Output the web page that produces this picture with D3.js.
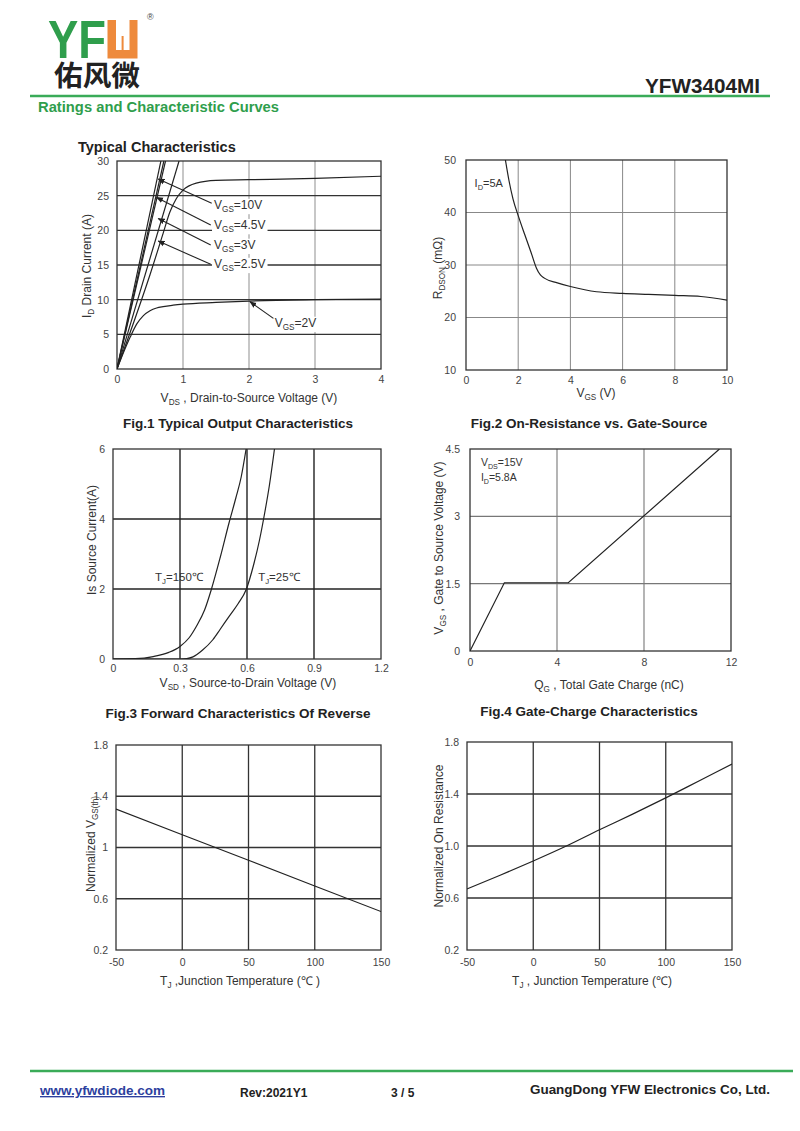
<!DOCTYPE html>
<html><head><meta charset="utf-8">
<script src="https://cdn.jsdelivr.net/npm/d3@7"></script>
<style>
html,body{margin:0;padding:0;background:#fff;}
svg{display:block;font-family:"Liberation Sans",Arial,sans-serif;}
</style></head>
<body>
<svg id="page" width="800" height="1131"></svg>
<script>
// ---------------- DATA ----------------
// Fig.1 Typical Output Characteristics  [VDS (V), ID (A)]
const fig1Vgs10  = [[0,0],[0.665,30]];
const fig1Vgs45  = [[0,0],[0.71,30]];
const fig1Vgs3   = [[0,0],[0.735,30]];
const fig1Vgs25  = [[0,0],[0.94,30]];
const fig1Sat    = [[0,0],[0.3,8.0],[0.5,13.6],[0.7,19.6],[0.8,22.6],[0.9,24.6],[1.0,25.8],[1.2,26.8],[1.5,27.2],[2,27.3],[3,27.5],[4,27.8]];
const fig1Vgs2   = [[0,0],[0.1,2.4],[0.2,4.6],[0.3,6.5],[0.4,7.7],[0.5,8.4],[0.6,8.8],[0.7,9.0],[0.85,9.2],[1.0,9.35],[1.5,9.6],[2,9.8],[3,10.0],[4,10.1]];
const fig1XTicks = [0,1,2,3,4];
const fig1YTicks = [0,5,10,15,20,25,30];
const fig1Labels = ["10V","4.5V","3V","2.5V"];
// arrow tips / tails in data units [VDS, ID]
const fig1ArrowTips  = [[0.625,27.4],[0.60,24.75],[0.625,21.7],[0.625,18.45],[2.015,9.7]];
const fig1ArrowTails = [[1.435,23.9],[1.42,20.77],[1.42,17.9],[1.42,15.1],[2.37,7.3]];

// Fig.2 On-Resistance vs Gate-Source [VGS (V), RDSON (mΩ)]
const fig2Rdson = [[1.51,50],[1.65,46],[1.8,42.6],[2.0,39.4],[2.25,35.8],[2.5,32.3],[2.7,29.4],[2.85,28.1],[3,27.5],[3.5,26.6],[4,25.9],[5,24.9],[6,24.6],[7,24.4],[8,24.2],[9,24.0],[10,23.3]];
const fig2XTicks = [0,2,4,6,8,10];
const fig2YTicks = [10,20,30,40,50];

// Fig.3 Forward characteristics of reverse diode [VSD (V), IS (A)]
const fig3T150 = [[0,0],[0.1,0.01],[0.18,0.07],[0.25,0.19],[0.3,0.36],[0.34,0.6],[0.373,0.93],[0.41,1.4],[0.44,1.98],[0.48,2.9],[0.52,3.9],[0.55,4.6],[0.574,5.2],[0.596,6]];
const fig3T25  = [[0,0],[0.3,0],[0.33,0.01],[0.358,0.06],[0.4,0.25],[0.447,0.55],[0.48,0.85],[0.52,1.22],[0.56,1.58],[0.596,1.98],[0.63,2.7],[0.656,3.4],[0.68,4.2],[0.70,4.95],[0.723,6]];
const fig3XTicks = [0,0.3,0.6,0.9,1.2];
const fig3YTicks = [0,2,4,6];

// Fig.4 Gate-Charge [QG (nC), VGS (V)]
const fig4Vgs = [[0,0],[1.58,1.52],[4.52,1.52],[11.47,4.5]];
const fig4XTicks = [0,4,8,12];
const fig4YTicks = [0,1.5,3,4.5];

// Fig.5 Normalized VGS(th) vs TJ
const fig5Vth = [[-50,1.3],[0,1.1],[50,0.9],[100,0.7],[150,0.5]];
const fig5XTicks = [-50,0,50,100,150];
const fig5YTicks = [0.2,0.6,1.0,1.4,1.8];

// Fig.6 Normalized On Resistance vs TJ
const fig6Ron = [[-50,0.67],[-25,0.775],[0,0.885],[25,1.0],[50,1.125],[75,1.245],[100,1.37],[125,1.5],[150,1.63]];
const fig6XTicks = [-50,0,50,100,150];
const fig6YTicks = [0.2,0.6,1.0,1.4,1.8];

// ---------------- HELPERS ----------------
const svg = d3.select("#page");
const GREEN = "#2f9e4c";
let clipId = 0;

function rich(parent, x, y, parts, opt={}) {
  const size = opt.size || 12;
  const t = parent.append("text").attr("x", x).attr("y", y)
    .attr("font-size", size).attr("fill", opt.fill || "#333")
    .attr("text-anchor", opt.anchor || "start")
    .attr("font-weight", opt.weight || "normal");
  if (opt.rotate) t.attr("transform", `rotate(${opt.rotate},${x},${y})`);
  let shifted = 0;
  parts.forEach(p => {
    const isSub = Array.isArray(p);
    const txt = isSub ? p[0] : p;
    const ts = t.append("tspan").text(txt);
    if (isSub) {
      ts.attr("font-size", size*0.68).attr("dy", size*0.28 - shifted);
      shifted = size*0.28;
    } else if (shifted) {
      ts.attr("dy", -shifted); shifted = 0;
    }
  });
  return t;
}

function chart(cfg) {
  const g = svg.append("g");
  const x = d3.scaleLinear().domain(cfg.xDom).range([cfg.left, cfg.right]);
  const y = d3.scaleLinear().domain(cfg.yDom).range([cfg.bottom, cfg.top]);
  cfg.xTicks.filter(v => v > cfg.xDom[0] && v < cfg.xDom[1]).forEach(v => {
    g.append("line").attr("x1", x(v)).attr("x2", x(v)).attr("y1", y(cfg.yDom[0])).attr("y2", y(cfg.yDom[1]))
      .attr("stroke", cfg.gridV).attr("stroke-width", cfg.gridVW || 1.2);
  });
  cfg.yTicks.filter(v => v > cfg.yDom[0] && v < cfg.yDom[1]).forEach(v => {
    g.append("line").attr("y1", y(v)).attr("y2", y(v)).attr("x1", x(cfg.xDom[0])).attr("x2", x(cfg.xDom[1]))
      .attr("stroke", cfg.gridH).attr("stroke-width", cfg.gridHW || 1.2);
  });
  g.append("rect").attr("x", cfg.left).attr("y", cfg.top).attr("width", cfg.right-cfg.left).attr("height", cfg.bottom-cfg.top)
    .attr("fill", "none").attr("stroke", cfg.frame || "#333").attr("stroke-width", 1.3);
  const xa = g.append("g").attr("transform", `translate(0,${cfg.bottom})`)
    .call(d3.axisBottom(x).tickValues(cfg.xTicks).tickSize(0).tickPadding(cfg.xPad || 7).tickFormat(cfg.xFmt || (d => d)));
  const ya = g.append("g").attr("transform", `translate(${cfg.left},0)`)
    .call(d3.axisLeft(y).tickValues(cfg.yTicks).tickSize(0).tickPadding(cfg.yPad || 8).tickFormat(cfg.yFmt || (d => d)));
  [xa, ya].forEach(a => {
    a.select(".domain").remove();
    a.selectAll("text").attr("font-size", 10.5).attr("fill", "#444").attr("font-family", '"Liberation Sans",Arial,sans-serif');
  });
  const id = "clip" + (clipId++);
  svg.append("clipPath").attr("id", id).append("rect")
    .attr("x", cfg.left).attr("y", cfg.top).attr("width", cfg.right-cfg.left).attr("height", cfg.bottom-cfg.top);
  const cg = g.append("g").attr("clip-path", `url(#${id})`);
  cfg.series.forEach(s => {
    const line = d3.line().x(d => x(d[0])).y(d => y(d[1])).curve(s.curve || d3.curveLinear);
    cg.append("path").attr("d", line(s.data)).attr("fill", "none").attr("stroke", "#222").attr("stroke-width", 1.2);
  });
  return {g, x, y};
}

function caption(x, y, txt) {
  svg.append("text").attr("x", x).attr("y", y).attr("text-anchor", "middle").attr("font-size", 13.5)
    .attr("font-weight", "bold").attr("fill", "#222").text(txt);
}

// ---------------- HEADER ----------------
svg.append("text").attr("x", 48).attr("y", 58).attr("font-size", 53).attr("font-weight", "bold")
  .attr("fill", GREEN).attr("font-family", '"Liberation Sans",Arial,sans-serif')
  .attr("textLength", 58).attr("lengthAdjust", "spacingAndGlyphs").text("YF");
svg.append("path").attr("fill", "#ee8a3c")
  .attr("d", "M107.5,20 H116 V50 H129.5 V20 H137.5 V58.5 H107.5 Z");
svg.append("rect").attr("x", 121.6).attr("y", 36).attr("width", 2).attr("height", 14).attr("fill", "#ee8a3c");
svg.append("text").attr("x", 147).attr("y", 20).attr("font-size", 9).attr("fill", "#444").text("®");
svg.append("text").attr("x", 54).attr("y", 86).attr("font-size", 28).attr("font-weight", "bold")
  .attr("fill", "#222").attr("font-family", '"Noto Sans CJK SC",sans-serif')
  .attr("textLength", 86).attr("lengthAdjust", "spacingAndGlyphs").text("佑风微");
svg.append("text").attr("x", 760).attr("y", 93).attr("text-anchor", "end").attr("font-size", 20)
  .attr("font-weight", "bold").attr("fill", "#222")
  .attr("textLength", 115).attr("lengthAdjust", "spacingAndGlyphs").text("YFW3404MI");
svg.append("line").attr("x1", 30).attr("x2", 770).attr("y1", 96).attr("y2", 96).attr("stroke", "#3aab58").attr("stroke-width", 2.5);
svg.append("text").attr("x", 38).attr("y", 112).attr("font-size", 15.5).attr("font-weight", "bold")
  .attr("fill", GREEN).attr("textLength", 241).attr("lengthAdjust", "spacingAndGlyphs").text("Ratings and Characteristic Curves");
svg.append("text").attr("x", 78).attr("y", 152).attr("font-size", 14.5).attr("font-weight", "bold")
  .attr("fill", "#222").text("Typical Characteristics");

const defs = svg.append("defs");
defs.append("marker").attr("id", "arr").attr("viewBox", "0 0 10 10").attr("refX", 9).attr("refY", 5)
  .attr("markerWidth", 7).attr("markerHeight", 7).attr("orient", "auto-start-reverse").attr("markerUnits", "userSpaceOnUse")
  .append("path").attr("d", "M0,1 L10,5 L0,9 Z").attr("fill", "#222");

// ---------------- FIG 1 ----------------
const c1 = chart({left:117, right:381, top:161, bottom:369, xDom:[0,4], yDom:[0,30],
  xTicks:fig1XTicks, yTicks:fig1YTicks, gridV:"#999", gridH:"#333", gridHW:1.4, gridVW:1.1,
  series:[{data:fig1Vgs10},{data:fig1Vgs45},{data:fig1Vgs3},{data:fig1Vgs25},
          {data:fig1Sat, curve:d3.curveMonotoneX},{data:fig1Vgs2, curve:d3.curveMonotoneX}]});
const labelPos1 = [[1.47,23.1],[1.47,20.2],[1.47,17.35],[1.47,14.6]];
function labelWithBg(parent, x, y, parts, size) {
  const gl = parent.append("g");
  const t = rich(gl, x, y, parts, {size:size, fill:"#333"});
  const b = t.node().getBBox();
  gl.insert("rect", "text").attr("x", b.x-2).attr("y", b.y+1).attr("width", b.width+4).attr("height", b.height-1).attr("fill", "#fff");
}
fig1Labels.forEach((lb, i) => {
  labelWithBg(c1.g, c1.x(labelPos1[i][0]), c1.y(labelPos1[i][1]), ["V", ["GS"], "=" + lb], 12);
});
labelWithBg(c1.g, c1.x(2.39), c1.y(6.1), ["V", ["GS"], "=2V"], 12);
fig1ArrowTips.forEach((tip, i) => {
  const tail = fig1ArrowTails[i];
  c1.g.append("line").attr("x1", c1.x(tail[0])).attr("y1", c1.y(tail[1])).attr("x2", c1.x(tip[0])).attr("y2", c1.y(tip[1]))
    .attr("stroke", "#222").attr("stroke-width", 1.1).attr("marker-end", "url(#arr)");
});
rich(svg, 249, 402, ["V", ["DS"], " , Drain-to-Source Voltage (V)"], {anchor:"middle", size:12});
rich(svg, 91, 266, ["I", ["D"], " Drain Current (A)"], {anchor:"middle", size:12, rotate:-90});
caption(238, 428, "Fig.1 Typical Output Characteristics");

// ---------------- FIG 2 ----------------
const c2 = chart({left:466, right:727, top:160, bottom:370, xDom:[0,10], yDom:[10,50],
  xTicks:fig2XTicks, yTicks:fig2YTicks, gridV:"#888", gridH:"#888", gridHW:1, gridVW:1, yPad:10,
  series:[{data:fig2Rdson, curve:d3.curveMonotoneX}]});
rich(c2.g, c2.x(0.33), c2.y(44.8), ["I", ["D"], "=5A"], {size:11});
rich(svg, 596, 397, ["V", ["GS"], " (V)"], {anchor:"middle", size:12});
rich(svg, 442, 268, ["R", ["DSON"], " (mΩ)"], {anchor:"middle", size:12, rotate:-90});
caption(589, 428, "Fig.2 On-Resistance vs. Gate-Source");

// ---------------- FIG 3 ----------------
const c3 = chart({left:113, right:381, top:449, bottom:659, xDom:[0,1.2], yDom:[0,6],
  xTicks:fig3XTicks, yTicks:fig3YTicks, gridV:"#222", gridH:"#222", gridHW:1.4, gridVW:1.4, xPad:6,
  series:[{data:fig3T150, curve:d3.curveMonotoneX},{data:fig3T25, curve:d3.curveMonotoneX}]});
rich(c3.g, c3.x(0.188), c3.y(2.24), ["T", ["J"], "=150℃"], {size:11.5});
rich(c3.g, c3.x(0.65), c3.y(2.24), ["T", ["J"], "=25℃"], {size:11.5});
rich(svg, 248, 687, ["V", ["SD"], " , Source-to-Drain Voltage (V)"], {anchor:"middle", size:12});
rich(svg, 96, 540, ["Is Source Current(A)"], {anchor:"middle", size:12, rotate:-90});
caption(238, 718, "Fig.3 Forward Characteristics Of Reverse");

// ---------------- FIG 4 ----------------
const c4 = chart({left:470, right:731, top:449, bottom:651, xDom:[0,12], yDom:[0,4.5],
  xTicks:fig4XTicks, yTicks:fig4YTicks, gridV:"#777", gridH:"#777", gridHW:1.1, gridVW:1.1, xPad:8, yPad:10,
  series:[{data:fig4Vgs}]});
rich(c4.g, c4.x(0.5), c4.y(4.12), ["V", ["DS"], "=15V"], {size:10.5});
rich(c4.g, c4.x(0.5), c4.y(3.78), ["I", ["D"], "=5.8A"], {size:10.5});
rich(svg, 609, 689, ["Q", ["G"], " , Total Gate Charge (nC)"], {anchor:"middle", size:12});
rich(svg, 443, 548, ["V", ["GS"], " ,  Gate to Source Voltage (V)"], {anchor:"middle", size:12, rotate:-90});
caption(589, 716, "Fig.4 Gate-Charge Characteristics");

// ---------------- FIG 5 ----------------
const c5 = chart({left:116, right:381, top:745, bottom:950, xDom:[-50,150], yDom:[0.2,1.8],
  xTicks:fig5XTicks, yTicks:fig5YTicks, gridV:"#333", gridH:"#333", gridHW:1.3, gridVW:1.3, xPad:9,
  yFmt:d3.format("~g"), series:[{data:fig5Vth}]});
rich(svg, 240, 985, ["T", ["J"], " ,Junction Temperature (℃ )"], {anchor:"middle", size:12});
rich(svg, 95, 844, ["Normalized V", ["GS(th)"]], {anchor:"middle", size:12, rotate:-90});

// ---------------- FIG 6 ----------------
const c6 = chart({left:467, right:732, top:742, bottom:950, xDom:[-50,150], yDom:[0.2,1.8],
  xTicks:fig6XTicks, yTicks:fig6YTicks, gridV:"#333", gridH:"#333", gridHW:1.3, gridVW:1.3, xPad:9,
  yFmt:d3.format(".1f"), series:[{data:fig6Ron, curve:d3.curveMonotoneX}]});
rich(svg, 592, 985, ["T", ["J"], " , Junction Temperature (℃)"], {anchor:"middle", size:12});
rich(svg, 443, 836, ["Normalized On Resistance"], {anchor:"middle", size:12, rotate:-90});

// ---------------- FOOTER ----------------
svg.append("line").attr("x1", 30).attr("x2", 793).attr("y1", 1071).attr("y2", 1071).attr("stroke", "#3aab58").attr("stroke-width", 2.5);
svg.append("text").attr("x", 40).attr("y", 1095).attr("font-size", 13.5).attr("font-weight", "bold")
  .attr("fill", "#2d3f9e").attr("text-decoration", "underline")
  .attr("textLength", 125).attr("lengthAdjust", "spacingAndGlyphs").text("www.yfwdiode.com");
svg.append("text").attr("x", 240).attr("y", 1097).attr("font-size", 12).attr("font-weight", "bold")
  .attr("fill", "#222").text("Rev:2021Y1");
svg.append("text").attr("x", 391).attr("y", 1097).attr("font-size", 12).attr("font-weight", "bold")
  .attr("fill", "#222").text("3 / 5");
svg.append("text").attr("x", 530).attr("y", 1094).attr("font-size", 13.5).attr("font-weight", "bold")
  .attr("fill", "#222").attr("textLength", 240).attr("lengthAdjust", "spacingAndGlyphs")
  .text("GuangDong YFW Electronics Co, Ltd.");
</script>
</body></html>
